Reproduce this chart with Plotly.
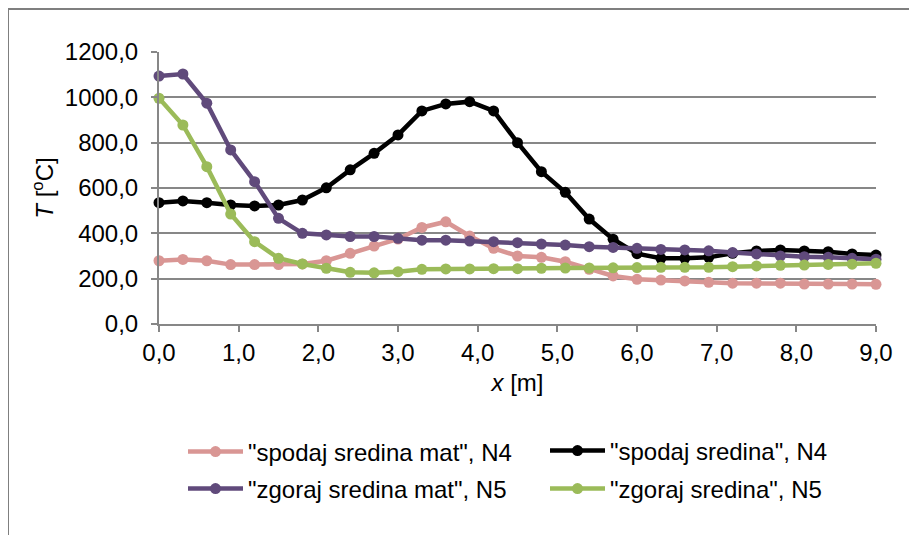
import plotly.graph_objects as go

x_m = [0.0, 0.3, 0.6, 0.9, 1.2, 1.5, 1.8, 2.1, 2.4, 2.7, 3.0,
       3.3, 3.6, 3.9, 4.2, 4.5, 4.8, 5.1, 5.4, 5.7, 6.0,
       6.3, 6.6, 6.9, 7.2, 7.5, 7.8, 8.1, 8.4, 8.7, 9.0]

spodaj_sredina_mat = [279, 285, 279, 262, 262, 262, 265, 279, 312, 344, 375,
                      426, 451, 388, 334, 300, 294, 275, 241, 212, 197,
                      194, 190, 184, 180, 180, 180, 176, 176, 176, 175]

spodaj_sredina = [535, 543, 535, 525, 521, 525, 547, 601, 680, 753, 834,
                  940, 971, 981, 940, 800, 672, 581, 463, 374, 310,
                  290, 290, 294, 312, 322, 327, 322, 319, 309, 304]

zgoraj_sredina_mat = [1094, 1103, 974, 768, 628, 466, 400, 393, 386, 386, 378,
                      370, 370, 366, 363, 359, 353, 348, 341, 338, 334,
                      329, 327, 323, 315, 309, 300, 297, 294, 290, 286]

zgoraj_sredina = [996, 878, 694, 485, 363, 290, 265, 246, 228, 226, 231,
                  241, 243, 243, 244, 244, 246, 247, 247, 248, 249,
                  250, 250, 250, 253, 256, 259, 260, 263, 264, 268]

series = [
    ('"spodaj sredina mat", N4', spodaj_sredina_mat, "#D99694", "legend"),
    ('"spodaj sredina", N4', spodaj_sredina, "#000000", "legend2"),
    ('"zgoraj sredina mat", N5', zgoraj_sredina_mat, "#604A7B", "legend3"),
    ('"zgoraj sredina", N5', zgoraj_sredina, "#9BBB59", "legend4"),
]

fig = go.Figure()
for name, vals, col, lg in series:
    fig.add_trace(go.Scatter(
        x=x_m, y=vals, name=name, mode="lines+markers",
        line=dict(color=col, width=4.5),
        marker=dict(color=col, size=11, symbol="circle"),
        cliponaxis=False, legend=lg, showlegend=True,
    ))

FS = 24
L, T, W, H = 151, 44, 717, 272


def leg(px, py):
    return dict(x=(px - L) / W, xanchor="left", y=(T + H - py) / H, yanchor="middle",
                itemwidth=55, font=dict(size=FS), bgcolor="rgba(0,0,0,0)",
                borderwidth=0)


grid = "#878787"
fig.update_layout(
    width=917, height=535,
    margin=dict(l=L, r=917 - L - W, t=T, b=535 - T - H, autoexpand=False),
    paper_bgcolor="white", plot_bgcolor="white",
    font=dict(family="Liberation Sans, Arial, sans-serif", size=FS, color="black"),
    separators=", ",
    legend=leg(175, 444),
    legend2=leg(537, 443),
    legend3=leg(175, 481),
    legend4=leg(537, 481),
    xaxis=dict(range=[0, 9], dtick=1, tick0=0, tickformat=".1f",
               showgrid=False, zeroline=False,
               showline=True, linecolor=grid, linewidth=2,
               ticks="outside", ticklen=6, tickcolor=grid, tickwidth=2,
               ticklabelstandoff=0,
               title=dict(text="<i>x</i> [m]", standoff=9, font=dict(size=FS))),
    yaxis=dict(range=[0, 1200], dtick=200, tick0=0, tickformat=".1f",
               showgrid=True, gridcolor=grid, gridwidth=2, zeroline=False,
               showline=True, linecolor=grid, linewidth=2,
               ticks="outside", ticklen=6, tickcolor=grid, tickwidth=2,
               ticklabelstandoff=8,
               title=dict(text="<i>T</i> [<sup>o</sup>C]", standoff=4, font=dict(size=FS))),
    shapes=[dict(type="rect", xref="paper", yref="paper",
                 x0=(0 - L) / W, x1=(940 - L) / W,
                 y0=(T + H - 560) / H, y1=(T + H - 1) / H,
                 line=dict(color="#7F7F7F", width=2), fillcolor="rgba(0,0,0,0)", layer="below")],
)

fig.write_html("out.html")
